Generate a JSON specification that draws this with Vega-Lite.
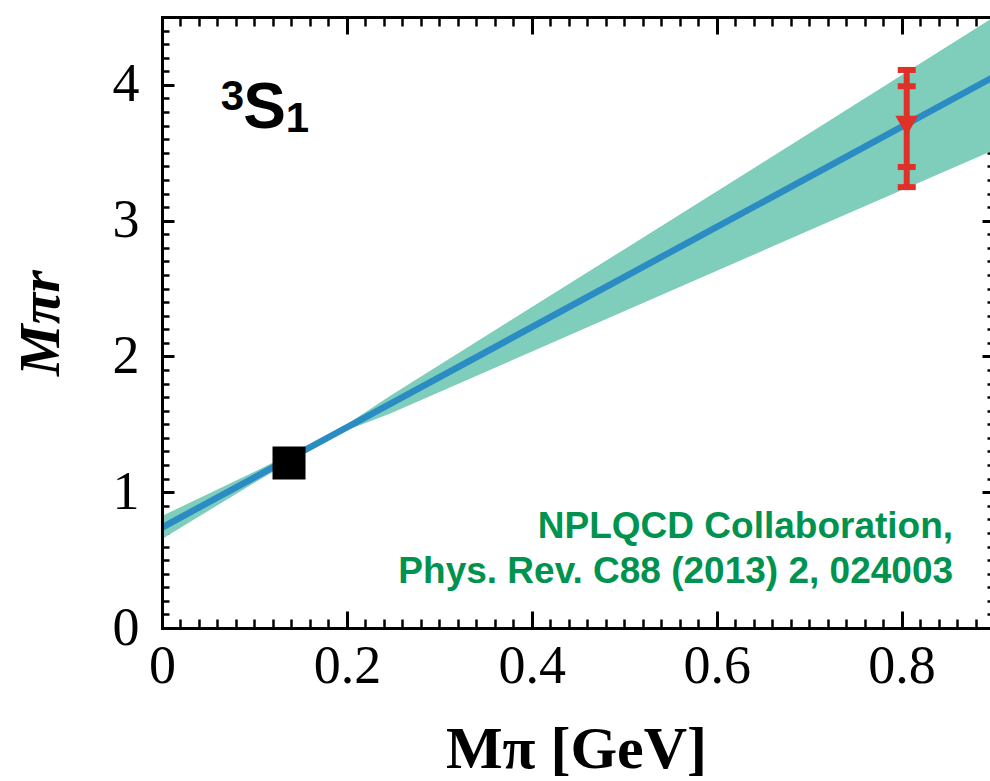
{
 "$schema": "https://vega.github.io/schema/vega-lite/v6.json",
 "width": 828,
 "height": 611,
 "autosize": {"type": "none"},
 "padding": {"left": 162, "top": 17, "right": 0, "bottom": 153},
 "background": "white",
 "config": {"view": {"stroke": null}, "axis": {"grid": false}},
 "datasets": {
  "band": [
   {"mpi": 0, "lo": 0.655, "hi": 0.825},
   {"mpi": 0.1, "lo": 1.07, "hi": 1.15},
   {"mpi": 0.19, "lo": 1.43, "hi": 1.455},
   {"mpi": 0.247, "lo": 1.58, "hi": 1.71},
   {"mpi": 0.4955, "lo": 2.32, "hi": 2.77},
   {"mpi": 0.711, "lo": 2.96, "hi": 3.69},
   {"mpi": 0.9, "lo": 3.52, "hi": 4.5}
  ],
  "line": [
   {"mpi": 0, "mr": 0.74},
   {"mpi": 0.9, "mr": 4.06}
  ],
  "phys": [{"mpi": 0.1374, "mr": 1.215}],
  "lqcd": [{"mpi": 0.8056, "mr": 3.7, "stat_lo": 3.395, "stat_hi": 3.99, "tot_lo": 3.247, "tot_hi": 4.11}]
 },
 "resolve": {"axis": {"x": "independent", "y": "independent"}},
 "layer": [
  {
   "data": {"name": "band"},
   "mark": {"type": "area", "color": "#7fcdbb", "opacity": 1, "clip": true},
   "encoding": {
    "x": {"field": "mpi", "type": "quantitative", "scale": {"domain": [0, 0.89567], "nice": false, "zero": false},
     "axis": {"orient": "bottom", "values": [0, 0.2, 0.4, 0.6, 0.8], "format": "~g", "domain": false, "grid": false, "ticks": true, "tickSize": -17, "tickWidth": 3, "tickColor": "black", "labelFont": "Liberation Serif", "labelFontSize": 54, "labelColor": "black", "labelBaseline": "alphabetic", "labelPadding": 71, "labelFlush": false, "labelOverlap": false, "labelBound": false, "title": "Mπ [GeV]", "titleFont": "Liberation Serif", "titleFontSize": 60, "titleFontWeight": "bold", "titleColor": "black", "titleBaseline": "alphabetic", "titlePadding": 74}},
    "y": {"field": "lo", "type": "quantitative", "scale": {"domain": [0, 4.5], "nice": false, "zero": false},
     "axis": {"orient": "left", "values": [0, 1, 2, 3, 4], "format": "~g", "domain": false, "grid": false, "ticks": true, "tickSize": -12, "tickWidth": 3, "tickColor": "black", "labelFont": "Liberation Serif", "labelFontSize": 54, "labelColor": "black", "labelPadding": 35, "labelFlush": false, "labelOverlap": false, "labelBound": false, "title": "Mπr", "titleFont": "Liberation Serif", "titleFontSize": 58, "titleFontWeight": "bold", "titleFontStyle": "italic", "titleColor": "black", "titlePadding": 42}},
    "y2": {"field": "hi"}
   }
  },
  {
   "data": {"name": "line"},
   "mark": {"type": "line", "color": "#2b8cc4", "strokeWidth": 6.5, "clip": true},
   "encoding": {
    "x": {"field": "mpi", "type": "quantitative", "scale": {"domain": [0, 0.89567], "nice": false, "zero": false},
     "axis": {"orient": "bottom", "values": [0.02,0.04,0.06,0.08,0.1,0.12,0.14,0.16,0.18,0.22,0.24,0.26,0.28,0.3,0.32,0.34,0.36,0.38,0.42,0.44,0.46,0.48,0.5,0.52,0.54,0.56,0.58,0.62,0.64,0.66,0.68,0.7,0.72,0.74,0.76,0.78,0.82,0.84,0.86,0.88], "domain": false, "grid": false, "labels": false, "tickSize": -9, "tickWidth": 2.5, "tickColor": "black", "title": null}},
    "y": {"field": "mr", "type": "quantitative", "scale": {"domain": [0, 4.5], "nice": false, "zero": false},
     "axis": {"orient": "left", "values": [0.1,0.2,0.3,0.4,0.5,0.6,0.7,0.8,0.9,1.1,1.2,1.3,1.4,1.5,1.6,1.7,1.8,1.9,2.1,2.2,2.3,2.4,2.5,2.6,2.7,2.8,2.9,3.1,3.2,3.3,3.4,3.5,3.6,3.7,3.8,3.9,4.1,4.2,4.3,4.4], "domain": false, "grid": false, "labels": false, "tickSize": -7, "tickWidth": 2.5, "tickColor": "black", "title": null}}
   }
  },
  {
   "data": {"name": "lqcd"},
   "mark": {"type": "rule", "color": "#e0302a", "strokeWidth": 6},
   "encoding": {
    "x": {"field": "mpi", "type": "quantitative", "scale": {"domain": [0, 0.89567], "nice": false, "zero": false},
     "axis": {"orient": "top", "values": [0.2, 0.4, 0.6, 0.8], "domain": false, "grid": false, "labels": false, "tickSize": -17, "tickWidth": 3, "tickColor": "black", "title": null}},
    "y": {"field": "tot_lo", "type": "quantitative", "scale": {"domain": [0, 4.5], "nice": false, "zero": false},
     "axis": {"orient": "right", "offset": 4, "values": [1, 2, 3, 4], "domain": false, "grid": false, "labels": false, "tickSize": -12, "tickWidth": 3, "tickColor": "black", "title": null}},
    "y2": {"field": "tot_hi"}
   }
  },
  {
   "data": {"name": "lqcd"},
   "transform": [{"fold": ["tot_lo", "tot_hi", "stat_lo", "stat_hi"], "as": ["bound", "val"]}],
   "mark": {"type": "tick", "orient": "horizontal", "color": "#e0302a", "size": 18, "thickness": 6, "opacity": 1},
   "encoding": {
    "x": {"field": "mpi", "type": "quantitative", "scale": {"domain": [0, 0.89567], "nice": false, "zero": false},
     "axis": {"orient": "top", "values": [0.02,0.04,0.06,0.08,0.1,0.12,0.14,0.16,0.18,0.22,0.24,0.26,0.28,0.3,0.32,0.34,0.36,0.38,0.42,0.44,0.46,0.48,0.5,0.52,0.54,0.56,0.58,0.62,0.64,0.66,0.68,0.7,0.72,0.74,0.76,0.78,0.82,0.84,0.86,0.88], "domain": false, "grid": false, "labels": false, "tickSize": -9, "tickWidth": 2.5, "tickColor": "black", "title": null}},
    "y": {"field": "val", "type": "quantitative", "scale": {"domain": [0, 4.5], "nice": false, "zero": false},
     "axis": {"orient": "right", "offset": 4, "values": [0.1,0.2,0.3,0.4,0.5,0.6,0.7,0.8,0.9,1.1,1.2,1.3,1.4,1.5,1.6,1.7,1.8,1.9,2.1,2.2,2.3,2.4,2.5,2.6,2.7,2.8,2.9,3.1,3.2,3.3,3.4,3.5,3.6,3.7,3.8,3.9,4.1,4.2,4.3,4.4], "domain": false, "grid": false, "labels": false, "tickSize": -7, "tickWidth": 2.5, "tickColor": "black", "title": null}}
   }
  },
  {
   "data": {"name": "lqcd"},
   "mark": {"type": "point", "shape": "triangle-down", "size": 520, "filled": true, "color": "#e0302a", "opacity": 1},
   "encoding": {
    "x": {"field": "mpi", "type": "quantitative", "scale": {"domain": [0, 0.89567], "nice": false, "zero": false},
     "axis": {"orient": "bottom", "domain": true, "domainColor": "black", "domainWidth": 3, "domainCap": "square", "ticks": false, "labels": false, "grid": false, "title": null, "zindex": 1}},
    "y": {"field": "mr", "type": "quantitative", "scale": {"domain": [0, 4.5], "nice": false, "zero": false},
     "axis": {"orient": "left", "domain": true, "domainColor": "black", "domainWidth": 3, "domainCap": "square", "ticks": false, "labels": false, "grid": false, "title": null, "zindex": 1}}
   }
  },
  {
   "data": {"name": "phys"},
   "mark": {"type": "point", "shape": "square", "size": 1089, "filled": true, "color": "black", "opacity": 1},
   "encoding": {
    "x": {"field": "mpi", "type": "quantitative", "scale": {"domain": [0, 0.89567], "nice": false, "zero": false},
     "axis": {"orient": "top", "domain": true, "domainColor": "black", "domainWidth": 3, "domainCap": "square", "ticks": false, "labels": false, "grid": false, "title": null, "zindex": 1}},
    "y": {"field": "mr", "type": "quantitative", "scale": {"domain": [0, 4.5], "nice": false, "zero": false}, "axis": null}
   }
  },
  {
   "data": {"values": [{"label": "3"}]},
   "mark": {"type": "text", "font": "Liberation Sans", "fontWeight": "bold", "fontSize": 42, "color": "black", "align": "center", "baseline": "alphabetic"},
   "encoding": {
    "text": {"field": "label"},
    "x": {"datum": 0.0763, "type": "quantitative", "scale": {"domain": [0, 0.89567], "nice": false, "zero": false}, "axis": null},
    "y": {"datum": 3.814, "type": "quantitative", "scale": {"domain": [0, 4.5], "nice": false, "zero": false}, "axis": null}
   }
  },
  {
   "data": {"values": [{"label": "S"}]},
   "mark": {"type": "text", "font": "Liberation Sans", "fontWeight": "bold", "fontSize": 64, "color": "black", "align": "center", "baseline": "alphabetic"},
   "encoding": {
    "text": {"field": "label"},
    "x": {"datum": 0.1109, "type": "quantitative", "scale": {"domain": [0, 0.89567], "nice": false, "zero": false}, "axis": null},
    "y": {"datum": 3.68, "type": "quantitative", "scale": {"domain": [0, 4.5], "nice": false, "zero": false}, "axis": null}
   }
  },
  {
   "data": {"values": [{"label": "1"}]},
   "mark": {"type": "text", "font": "Liberation Sans", "fontWeight": "bold", "fontSize": 42, "color": "black", "align": "center", "baseline": "alphabetic"},
   "encoding": {
    "text": {"field": "label"},
    "x": {"datum": 0.1465, "type": "quantitative", "scale": {"domain": [0, 0.89567], "nice": false, "zero": false}, "axis": null},
    "y": {"datum": 3.652, "type": "quantitative", "scale": {"domain": [0, 4.5], "nice": false, "zero": false}, "axis": null}
   }
  },
  {
   "data": {"values": [{"label": "NPLQCD Collaboration,"}]},
   "mark": {"type": "text", "font": "Liberation Sans", "fontWeight": "bold", "fontSize": 37, "color": "#00924f", "align": "right", "baseline": "alphabetic"},
   "encoding": {
    "text": {"field": "label"},
    "x": {"datum": 0.8557, "type": "quantitative", "scale": {"domain": [0, 0.89567], "nice": false, "zero": false}, "axis": null},
    "y": {"datum": 0.663, "type": "quantitative", "scale": {"domain": [0, 4.5], "nice": false, "zero": false}, "axis": null}
   }
  },
  {
   "data": {"values": [{"label": "Phys. Rev. C88 (2013) 2, 024003"}]},
   "mark": {"type": "text", "font": "Liberation Sans", "fontWeight": "bold", "fontSize": 37, "color": "#00924f", "align": "right", "baseline": "alphabetic"},
   "encoding": {
    "text": {"field": "label"},
    "x": {"datum": 0.8557, "type": "quantitative", "scale": {"domain": [0, 0.89567], "nice": false, "zero": false}, "axis": null},
    "y": {"datum": 0.331, "type": "quantitative", "scale": {"domain": [0, 4.5], "nice": false, "zero": false}, "axis": null}
   }
  }
 ]
}
